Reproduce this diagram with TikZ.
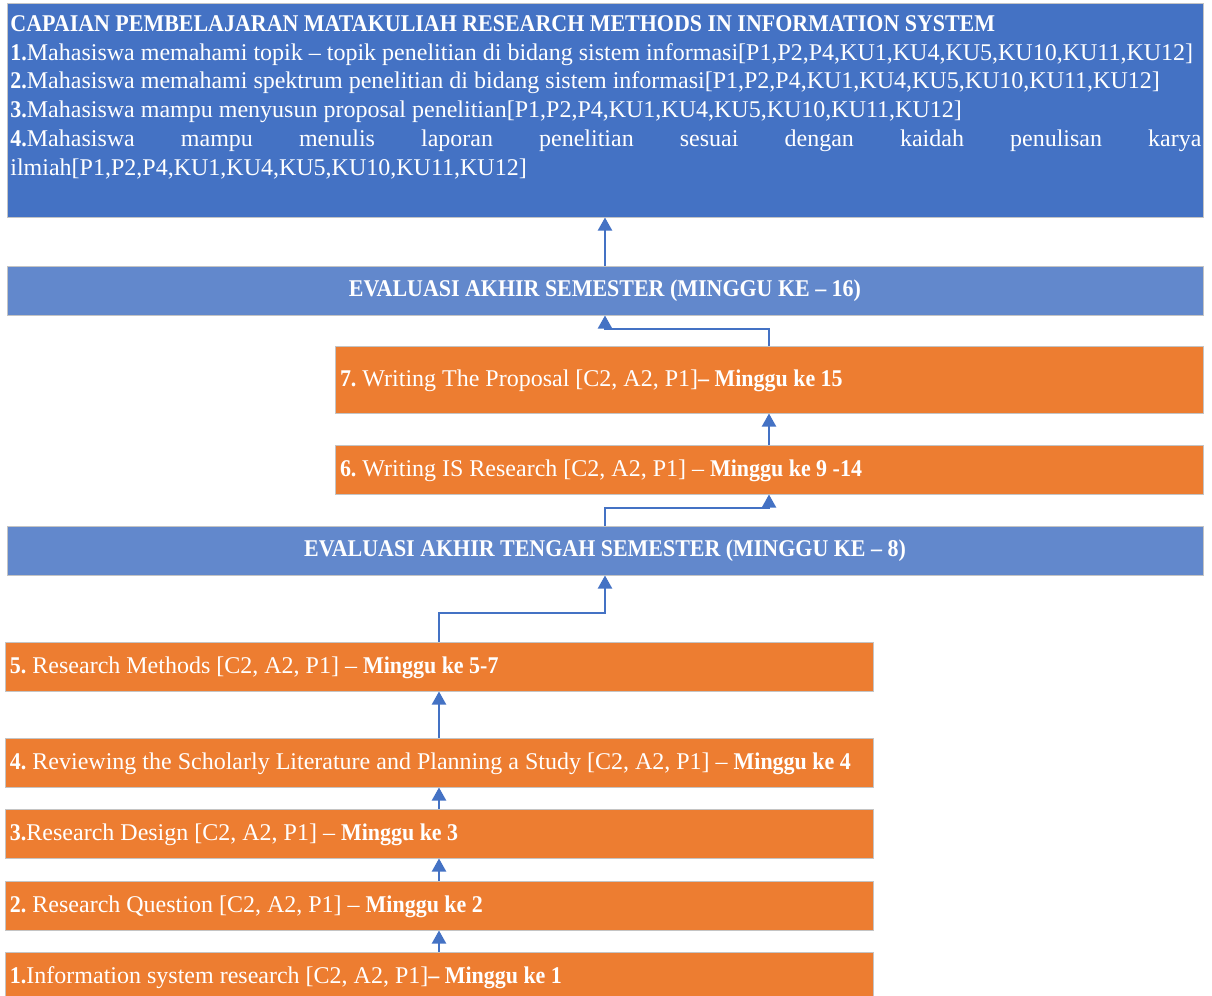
\documentclass[tikz,border=0pt]{standalone}
\usepackage{fontspec}
\setmainfont{Liberation Serif}
\usetikzlibrary{arrows.meta}
\definecolor{cpblue}{RGB}{68,114,196}
\definecolor{evblue}{RGB}{98,136,204}
\definecolor{mgorange}{RGB}{237,125,49}
\definecolor{boxline}{RGB}{196,196,196}
% bold text, set a little narrower
\newcommand{\bt}[1]{\scalebox{0.915}[1]{\bfseries #1}}
\newcommand{\wkline}[1]{\makebox[429pt][l]{#1}}
\tikzset{
  box/.style={draw=boxline, line width=0.5pt, inner xsep=2.5pt, inner ysep=0pt,
    text=white, font=\fontsize{12}{14.4}\selectfont},
  evalbox/.style={box, fill=evblue, minimum width=598pt, minimum height=24.5pt,
    text height=8.6pt, text depth=2.4pt},
  weekbox/.style={box, fill=mgorange, minimum width=434pt, minimum height=24.5pt,
    text height=9pt, text depth=1.6pt},
  link/.style={draw=cpblue, line width=1pt, -{Triangle[width=7pt,length=6.5pt]}}
}
\begin{document}
\begin{tikzpicture}[x=0.5pt,y=-0.5pt]
  \useasboundingbox (0,0) rectangle (1212,996);
  % capaian pembelajaran
  \node[box, fill=cpblue, minimum width=598pt, minimum height=107pt] (cpl) at (605,110) {};
  \node[text=white, anchor=north west, align=left, inner sep=0pt,
    font=\fontsize{12}{14.4}\selectfont] (cpltext) at (10,15) {%
    \bt{CAPAIAN PEMBELAJARAN MATAKULIAH RESEARCH METHODS IN INFORMATION SYSTEM}\\
    \bt{1.}Mahasiswa memahami topik – topik penelitian di bidang sistem informasi[P1,P2,P4,KU1,KU4,KU5,KU10,KU11,KU12]\\
    \bt{2.}Mahasiswa memahami spektrum penelitian di bidang sistem informasi[P1,P2,P4,KU1,KU4,KU5,KU10,KU11,KU12]\\
    \bt{3.}Mahasiswa mampu menyusun proposal penelitian[P1,P2,P4,KU1,KU4,KU5,KU10,KU11,KU12]\\
    \makebox[595.5pt][s]{\bt{4.}Mahasiswa mampu menulis laporan penelitian sesuai dengan kaidah penulisan karya}\\
    ilmiah[P1,P2,P4,KU1,KU4,KU5,KU10,KU11,KU12]};
  % evaluasi
  \node[evalbox] (ev16) at (605,290.5) {\bt{EVALUASI AKHIR SEMESTER (MINGGU KE – 16)}};
  \node[evalbox] (ev8) at (605,550.5) {\bt{EVALUASI AKHIR TENGAH SEMESTER (MINGGU KE – 8)}};
  % pertemuan
  \node[weekbox, minimum height=33.5pt] (p7) at (769,379.5)
    {\wkline{\bt{7.} Writing The Proposal [C2, A2, P1]\bt{– Minggu ke 15}}};
  \node[weekbox] (p6) at (769,469.5)
    {\wkline{\bt{6.} Writing IS Research [C2, A2, P1] – \bt{Minggu ke 9 -14}}};
  \node[weekbox] (p5) at (439,666.5)
    {\wkline{\bt{5.} Research Methods [C2, A2, P1] – \bt{Minggu ke 5-7}}};
  \node[weekbox] (p4) at (439,762.5)
    {\wkline{\bt{4.} Reviewing the Scholarly Literature and Planning a Study [C2, A2, P1] – \bt{Minggu ke 4}}};
  \node[weekbox] (p3) at (439,833.5)
    {\wkline{\bt{3.}Research Design [C2, A2, P1] – \bt{Minggu ke 3}}};
  \node[weekbox] (p2) at (439,905.5)
    {\wkline{\bt{2.} Research Question [C2, A2, P1] – \bt{Minggu ke 2}}};
  \node[weekbox] (p1) at (439,976.5)
    {\wkline{\bt{1.}Information system research [C2, A2, P1]\bt{– Minggu ke 1}}};
  \begin{scope}[link]
    \draw (p1) -- (p2);
    \draw (p2) -- (p3);
    \draw (p3) -- (p4);
    \draw (p4) -- (p5);
    \draw (p5.north) -- ++(0,-29) -| (ev8.south);
    \draw (ev8.north) -- ++(0,-18) -| (p6.south);
    \draw (p6) -- (p7);
    \draw (p7.north) -- ++(0,-17) -| (ev16.south);
    \draw (ev16.north) -- (cpl.south);
  \end{scope}
\end{tikzpicture}
\end{document}
